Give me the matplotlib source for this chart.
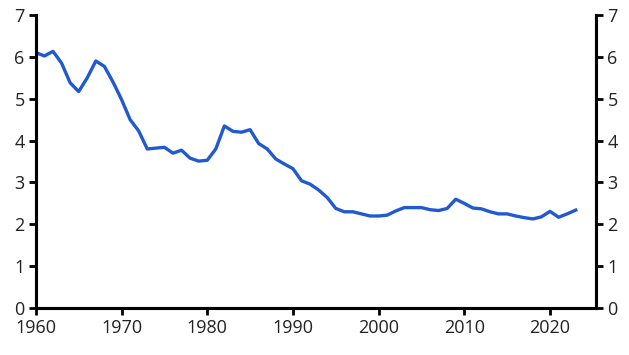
import matplotlib.pyplot as plt

# annual series
years = list(range(1960, 2024))
values = [6.10, 6.02, 6.13, 5.85, 5.38, 5.17, 5.50, 5.90, 5.77, 5.40,
          4.98, 4.50, 4.23, 3.80, 3.82, 3.84, 3.70, 3.77, 3.58, 3.51,
          3.53, 3.80, 4.35, 4.22, 4.20, 4.26, 3.93, 3.80, 3.56, 3.44,
          3.33, 3.04, 2.96, 2.82, 2.64, 2.38, 2.30, 2.30, 2.25, 2.20,
          2.20, 2.22, 2.32, 2.40, 2.40, 2.40, 2.35, 2.33, 2.38, 2.60,
          2.50, 2.39, 2.37, 2.30, 2.25, 2.25, 2.20, 2.16, 2.13, 2.18,
          2.31, 2.17, 2.25, 2.34]
x_ticks = [1960, 1970, 1980, 1990, 2000, 2010, 2020]
y_ticks = [0, 1, 2, 3, 4, 5, 6, 7]

plt.rcParams['font.family'] = ['Open Sans', 'DejaVu Sans']

fig, ax = plt.subplots(figsize=(6.29, 3.55), dpi=100)
fig.subplots_adjust(left=0.057, right=0.948, top=0.958, bottom=0.132)

ax.plot(years, values, color='#2159D0', linewidth=2.4)
ax.set_xlim(1960, 2025.4)
ax.set_ylim(0, 7)
ax.set_xticks(x_ticks)
ax.set_yticks(y_ticks)

ax2 = ax.twinx()
ax2.set_ylim(0, 7)
ax2.set_yticks(y_ticks)

for a in (ax, ax2):
    a.spines['top'].set_visible(False)
    for s in ('left', 'right', 'bottom'):
        a.spines[s].set_linewidth(2.2)
    a.tick_params(axis='both', length=5, width=2, labelsize=13, colors='black',
                  labelcolor='#222222', pad=3)

fig.savefig('out.png', dpi=100)
